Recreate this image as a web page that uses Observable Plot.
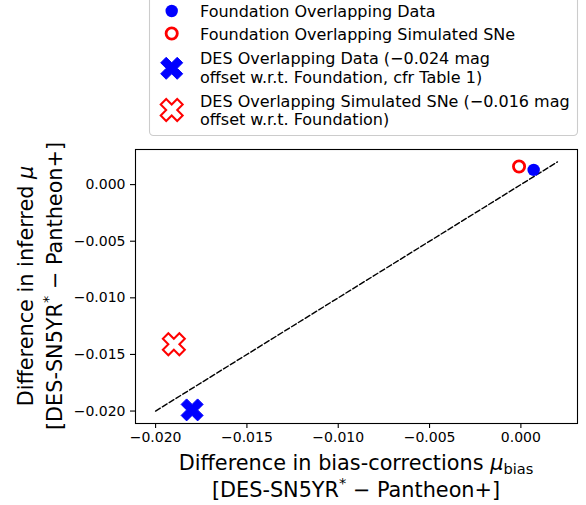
<!DOCTYPE html>
<html><head><meta charset="utf-8">
<script src="https://cdn.jsdelivr.net/npm/d3@7"></script>
<script src="https://cdn.jsdelivr.net/npm/@observablehq/plot@0.6"></script>
<style>
body{margin:0;background:#fff;font-family:"DejaVu Sans",sans-serif;}
#wrap{width:586px;height:505px;overflow:hidden;}
#legend,#chart svg{display:block;}
</style></head><body><div id="wrap"><svg id="legend" width="586" height="140"></svg><div id="chart"></div></div>
<script>
// ---- data ----
const seriesKeys = ["fdata", "fsim", "ddata", "dsim"];
const seriesLabels = [
  ["Foundation Overlapping Data"],
  ["Foundation Overlapping Simulated SNe"],
  ["DES Overlapping Data (\u22120.024 mag", "offset w.r.t. Foundation, cfr Table 1)"],
  ["DES Overlapping Simulated SNe (\u22120.016 mag", "offset w.r.t. Foundation)"]
];
const biasDiff = [0.0007, -0.0001, -0.0180, -0.0190];
const muDiff   = [0.0013, 0.0016, -0.0199, -0.0141];
const refLineX = [-0.020, 0.002];
const refLineY = [-0.020, 0.002];
const xTicks = [-0.020, -0.015, -0.010, -0.005, 0.000];
const yTicks = [-0.020, -0.015, -0.010, -0.005, 0.000];

// ---- styles ----
const styles = {
  fdata: {symbol: "circle", fill: "#0000ff", stroke: "none", strokeWidth: 0, r: 6.2},
  fsim:  {symbol: "circle", fill: "none", stroke: "#ff0000", strokeWidth: 2.8, r: 5.6},
  ddata: {symbol: "X", fill: "#0000ff", stroke: "#0000ff", strokeWidth: 1, r: 11},
  dsim:  {symbol: "X", fill: "white", stroke: "#ff0000", strokeWidth: 2, r: 11}
};

// matplotlib filled 'X' marker
const xVerts = [[-1,-2],[0,-1],[1,-2],[2,-1],[1,0],[2,1],[1,2],[0,1],[-1,2],[-2,1],[-1,0],[-2,-1]];
const symbolX = {
  draw(ctx, size) {
    const s = Math.sqrt(size / Math.PI) / 2;
    xVerts.forEach(([a, b], i) => i ? ctx.lineTo(a * s, b * s) : ctx.moveTo(a * s, b * s));
    ctx.closePath();
  }
};
const symFor = k => styles[k].symbol === "X" ? symbolX : d3.symbolCircle;

const points = seriesKeys.map((k, i) => ({key: k, x: biasDiff[i], y: muDiff[i]}));
const refLine = refLineX.map((x, i) => ({x, y: refLineY[i]}));

const fmt = d3.format(".3f");
const plot = Plot.plot({
  width: 586, height: 365,
  marginLeft: 135, marginRight: 9, marginTop: 9, marginBottom: 82,
  style: {fontFamily: "DejaVu Sans", fontSize: "14px", color: "black", background: "white", overflow: "visible"},
  x: {domain: [-0.0211, 0.0031]},
  y: {domain: [-0.0211, 0.0031]},
  marks: [
    Plot.line(refLine, {x: "x", y: "y", stroke: "black", strokeWidth: 1.4, strokeDasharray: "5.5,2.5"}),
    ...seriesKeys.map(k => {
      const st = styles[k];
      return Plot.dot(points.filter(d => d.key === k), {
        x: "x", y: "y", r: st.r, symbol: symFor(k),
        fill: st.fill, stroke: st.stroke, strokeWidth: st.strokeWidth
      });
    }),
    Plot.frame({stroke: "black", strokeWidth: 1.1}),
    Plot.axisX({ticks: xTicks, tickFormat: fmt, tickSize: 5, tickPadding: 4, label: null, strokeWidth: 1.1, fontSize: 14}),
    Plot.axisY({ticks: yTicks, tickFormat: fmt, tickSize: 5, tickPadding: 5, label: null, strokeWidth: 1.1, fontSize: 14})
  ]
});
document.getElementById("chart").appendChild(plot);

// ---- axis labels ----
const svg = d3.select(plot);
const xr = plot.scale("x").range, yr = plot.scale("y").range;
const xc = (xr[0] + xr[1]) / 2, yc = (yr[0] + yr[1]) / 2;
const LF = 20.8, SF = 14.6;
const lab = sel => sel.attr("font-family", "DejaVu Sans").attr("font-size", LF).attr("fill", "black");

const xl1 = svg.append("text").call(lab).attr("x", xc).attr("y", yr[0] + 47).attr("text-anchor", "middle");
xl1.append("tspan").text("Difference in bias-corrections ");
xl1.append("tspan").attr("font-style", "italic").text("\u03bc");
xl1.append("tspan").attr("font-size", SF).attr("dy", 4).text("bias");
const xl2 = svg.append("text").call(lab).attr("x", xc).attr("y", yr[0] + 74).attr("text-anchor", "middle");
xl2.append("tspan").text("[DES-SN5YR");
xl2.append("tspan").attr("font-size", SF).attr("dy", -9).text("*");
xl2.append("tspan").attr("dy", 9).text(" \u2212 Pantheon+]");

const yg = svg.append("g").attr("transform", `translate(33,${yc}) rotate(-90)`);
const yl1 = yg.append("text").call(lab).attr("x", 0).attr("y", 0).attr("text-anchor", "middle");
yl1.append("tspan").text("Difference in inferred ");
yl1.append("tspan").attr("font-style", "italic").text("\u03bc");
const yl2 = yg.append("text").call(lab).attr("x", 0).attr("y", 28.5).attr("text-anchor", "middle");
yl2.append("tspan").text("[DES-SN5YR");
yl2.append("tspan").attr("font-size", SF).attr("dy", -9).text("*");
yl2.append("tspan").attr("dy", 9).text(" \u2212 Pantheon+]");

// ---- legend ----
const lg = d3.select("#legend");
lg.append("rect").attr("x", 149.5).attr("y", -10).attr("width", 428).attr("height", 145.5)
  .attr("rx", 4).attr("fill", "white").attr("stroke", "#cccccc").attr("stroke-width", 1.1);
const baselines = [[16.7], [40], [64, 83.3], [106.7, 125]];
const markerY = [11, 33.5, 68.3, 110];
seriesKeys.forEach((k, i) => {
  const st = styles[k];
  lg.append("path")
    .attr("transform", `translate(171.7,${markerY[i]})`)
    .attr("d", d3.symbol(symFor(k), Math.PI * st.r * st.r)())
    .attr("fill", st.fill).attr("stroke", st.stroke).attr("stroke-width", st.strokeWidth);
  seriesLabels[i].forEach((t, j) => {
    lg.append("text").attr("x", 200).attr("y", baselines[i][j])
      .attr("font-family", "DejaVu Sans").attr("font-size", 16).attr("fill", "black").text(t);
  });
});
</script></body></html>
